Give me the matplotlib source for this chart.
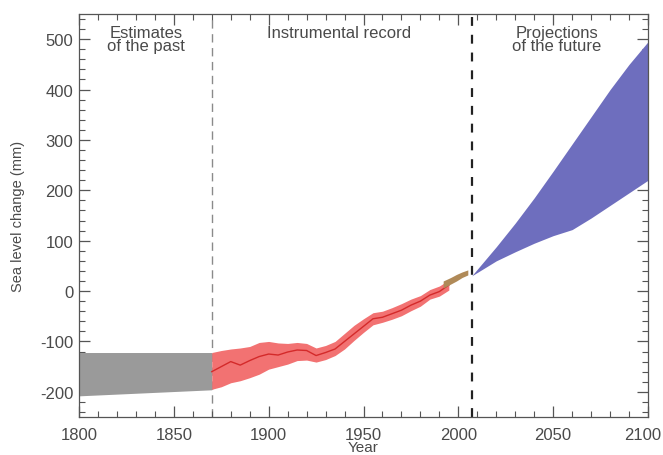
import matplotlib
matplotlib.use("Agg")
import matplotlib.pyplot as plt
from matplotlib.transforms import ScaledTranslation
import numpy as np

plt.rcParams['font.family'] = ['Liberation Sans', 'DejaVu Sans']
plt.rcParams['axes.unicode_minus'] = False

# ---- data ----
past_years = [1800, 1870]
past_upper = [-122, -122]
past_lower = [-208, -196]

inst_years = [1870, 1875, 1880, 1885, 1890, 1895, 1900, 1905, 1910, 1915, 1920,
              1925, 1930, 1935, 1940, 1945, 1950, 1955, 1960, 1965, 1970, 1975,
              1980, 1985, 1990, 1995]
inst_center = [-160, -150, -140, -147, -138, -130, -125, -127, -121, -117, -118,
               -128, -122, -115, -100, -85, -70, -55, -52, -45, -38, -28,
               -20, -8, -1, 12]
inst_upper = [-122, -118, -115, -113, -110, -102, -100, -103, -104, -102, -104,
              -113, -108, -100, -84, -68, -55, -43, -40, -33, -25, -16,
              -9, 3, 10, 22]
inst_lower = [-195, -190, -182, -178, -172, -165, -155, -150, -145, -138, -137,
              -141, -136, -128, -115, -98, -82, -67, -62, -56, -49, -39,
              -30, -16, -10, 2]

sat_years = [1992, 1996, 1999, 2002, 2005]
sat_upper = [20, 27, 33, 38, 42]
sat_lower = [6, 14, 20, 27, 32]

proj_years = [2007, 2020, 2030, 2040, 2050, 2060, 2070, 2080, 2090, 2100]
proj_upper = [30, 88, 135, 185, 238, 292, 346, 400, 450, 495]
proj_lower = [30, 60, 78, 95, 110, 122, 145, 170, 195, 220]

divider_years = [1870, 2007]
xticks = [1800, 1850, 1900, 1950, 2000, 2050, 2100]
yticks = [-200, -100, 0, 100, 200, 300, 400, 500]

# ---- figure ----
fig = plt.figure(figsize=(6.63, 4.56), dpi=100)
ax = fig.add_axes([79/663, 1-418/456, (648-79)/663, (418-15)/456])

txt = '#4a4a4a'

ax.fill_between(past_years, past_lower, past_upper, color='#9a9a9a', lw=0, zorder=2)
ax.fill_between(inst_years, inst_lower, inst_upper, color='#f27272', lw=0, zorder=2)
ax.plot(inst_years, inst_center, color='#d42a2a', lw=1.0, zorder=3)
ax.fill_between(sat_years, sat_lower, sat_upper, color='#b08a58', lw=0, zorder=4)
ax.fill_between(proj_years, proj_lower, proj_upper, color='#6e6ebe', lw=0, zorder=2)

ax.axvline(divider_years[0], color='#8a8a8a', lw=1.0, ls=(0, (6, 4)), zorder=1)
ax.axvline(divider_years[1], color='#222222', lw=1.6, ls=(0, (4, 4)), zorder=1)

ax.set_xlim(1800, 2100)
ax.set_ylim(-250, 550)
ax.set_xticks(xticks)
ax.set_yticks(yticks)
ax.set_xticks(np.arange(1800, 2101, 10), minor=True)
ax.set_yticks(np.arange(-240, 551, 20), minor=True)

ax.tick_params(which='both', direction='in', top=True, right=True,
               colors='#555555', labelcolor=txt, labelsize=12)
ax.tick_params(which='major', length=8, width=0.9)
ax.tick_params(which='minor', length=4, width=0.8)
ax.tick_params(axis='x', pad=7)
ax.tick_params(axis='y', pad=4)
for s in ax.spines.values():
    s.set_color('#555555')
    s.set_linewidth(0.9)

# keep the last x tick label inside the figure
fig.canvas.draw()
last = ax.get_xticklabels()[-1]
last.set_transform(last.get_transform() + ScaledTranslation(-5/100, 0, fig.dpi_scale_trans))

ax.set_xlabel('Year', fontsize=11, color=txt, labelpad=-1)
ax.set_ylabel('Sea level change (mm)', fontsize=10.5, color=txt)
ax.yaxis.set_label_coords(-54/569, 0.5)

ax.text(1835.2, 528, 'Estimates\nof the past', ha='center', va='top',
        fontsize=12, color=txt, linespacing=0.85)
ax.text(1937, 528, 'Instrumental record', ha='center', va='top',
        fontsize=12, color=txt)
ax.text(2051.8, 528, 'Projections\nof the future', ha='center', va='top',
        fontsize=12, color=txt, linespacing=0.85)

fig.savefig('out.png', dpi=100)
